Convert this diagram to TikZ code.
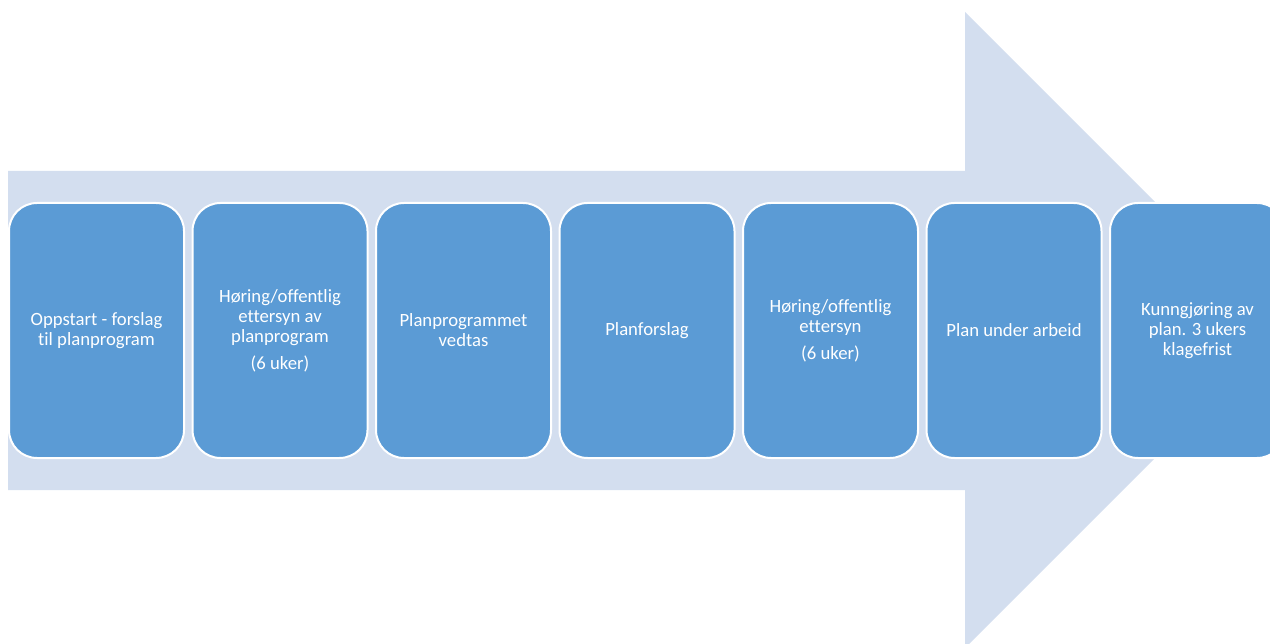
\documentclass[tikz,border=0pt]{standalone}
\usepackage{fontspec}
\setmainfont[Ligatures=NoCommon]{Carlito}
\definecolor{arrowfill}{RGB}{211,222,239}
\definecolor{boxfill}{RGB}{91,155,213}
\begin{document}
\begin{tikzpicture}[x=1pt,y=-1pt,
  stagebox/.style={draw=white, line width=2pt, fill=boxfill, rounded corners=28pt,
    minimum width=175pt, minimum height=255pt, anchor=north west, inner sep=0pt,
    text=white, align=center, font=\fontsize{18.7}{20}\selectfont}]
\useasboundingbox (0,0) rectangle (1270,644);
\clip (0,0) rectangle (1270,644);
% big arrow
\fill[arrowfill] (8,171) -- (965,171) -- (965,12) -- (1283,330) -- (965,648) -- (965,490) -- (8,490) -- cycle;
% stages
\node[stagebox] (b1) at (8,202) {Oppstart - forslag\\til planprogram};
\node[stagebox] (b2) at (191.5,202) {Høring/offentlig\\ettersyn av\\planprogram\\[7pt](6 uker)};
\node[stagebox] (b3) at (375,202) {Planprogrammet\\vedtas};
\node[stagebox] (b4) at (558.5,202) {Planforslag};
\node[stagebox] (b5) at (742,202) {Høring/offentlig\\ettersyn\\[7pt](6 uker)};
\node[stagebox] (b6) at (925.5,202) {Plan under arbeid};
\node[stagebox] (b7) at (1109,202) {Kunngjøring av\\plan. 3 ukers\\klagefrist};
\end{tikzpicture}
\end{document}
